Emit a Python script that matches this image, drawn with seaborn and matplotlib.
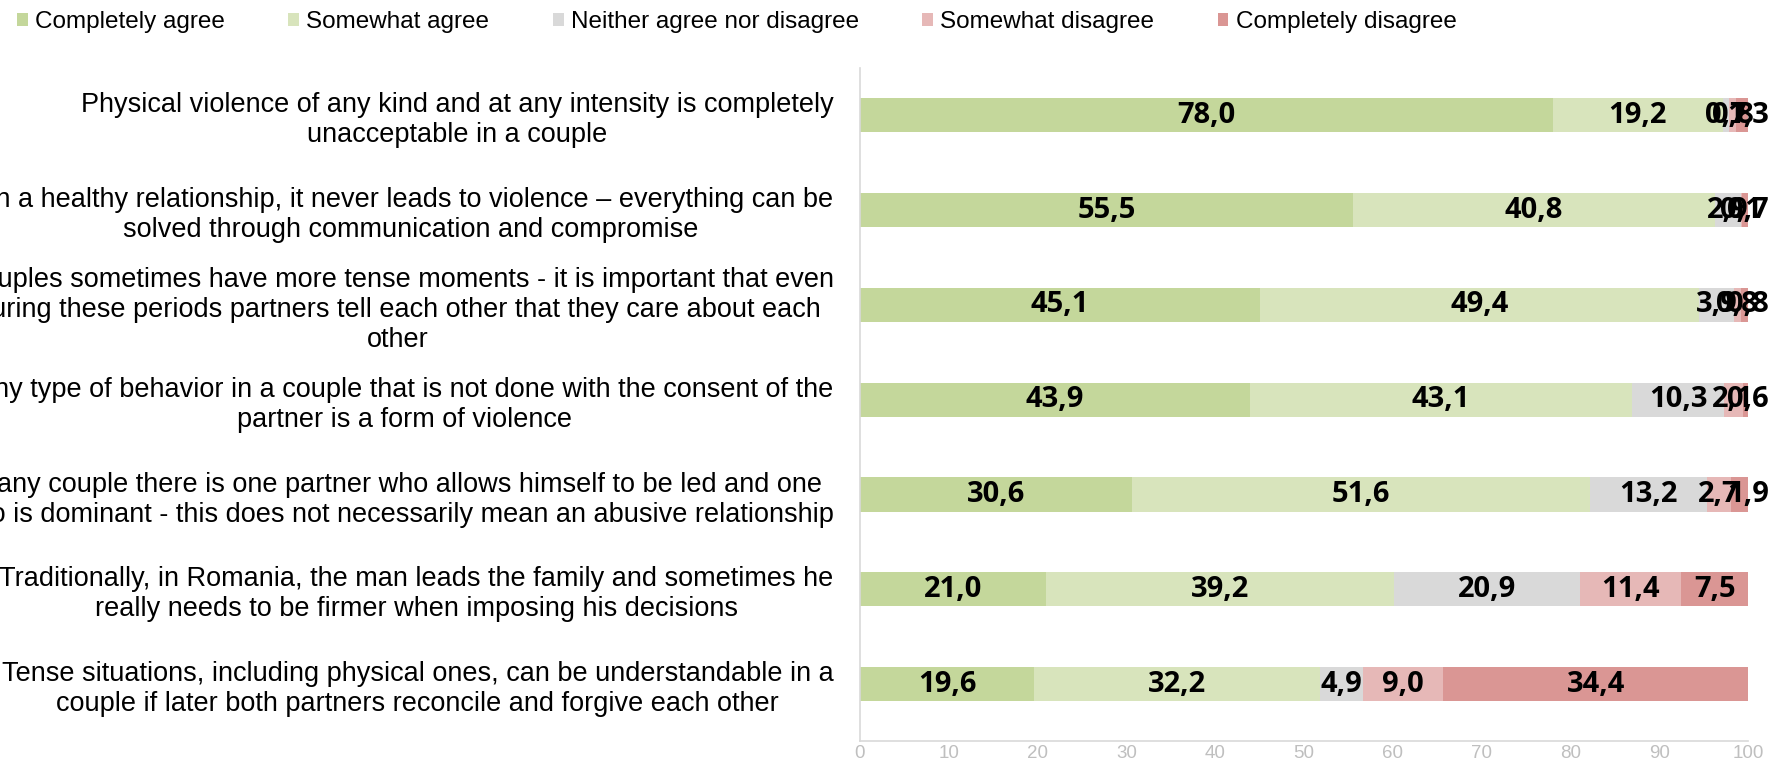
import numpy as np
import matplotlib
matplotlib.use("Agg")
import matplotlib.pyplot as plt
import seaborn as sns
from matplotlib.patches import Patch

# Survey statements (as wrapped in the source chart)
statements = [
    "Physical violence of any kind and at any intensity is completely\nunacceptable in a couple",
    "In a healthy relationship, it never leads to violence \u2013 everything can be\nsolved through communication and compromise",
    "Couples sometimes have more tense moments - it is important that even\nduring these periods partners tell each other that they care about each\nother",
    "Any type of behavior in a couple that is not done with the consent of the\npartner is a form of violence",
    "In any couple there is one partner who allows himself to be led and one\nwho is dominant - this does not necessarily mean an abusive relationship",
    "Traditionally, in Romania, the man leads the family and sometimes he\nreally needs to be firmer when imposing his decisions",
    "Tense situations, including physical ones, can be understandable in a\ncouple if later both partners reconcile and forgive each other",
]

answers = ["Completely agree", "Somewhat agree", "Neither agree nor disagree",
           "Somewhat disagree", "Completely disagree"]

completely_agree = [78.0, 55.5, 45.1, 43.9, 30.6, 21.0, 19.6]
somewhat_agree = [19.2, 40.8, 49.4, 43.1, 51.6, 39.2, 32.2]
neither = [0.7, 2.9, 3.9, 10.3, 13.2, 20.9, 4.9]
somewhat_disagree = [0.8, 0.1, 0.8, 2.1, 2.7, 11.4, 9.0]
completely_disagree = [1.3, 0.7, 0.8, 0.6, 1.9, 7.5, 34.4]

colors = ["#C4D79B", "#D8E4BC", "#D9D9D9", "#E6B8B7", "#DA9694"]

vals = np.array([completely_agree, somewhat_agree, neither,
                 somewhat_disagree, completely_disagree]).T
cum = vals.cumsum(axis=1)

fig = plt.figure(figsize=(17.83, 7.6), dpi=100)
ax = fig.add_axes([0.4823, 0.025, 0.498, 0.8855])

# stacked bars: draw the longest cumulative total first
for i in range(len(answers) - 1, -1, -1):
    sns.barplot(x=cum[:, i], y=statements, color=colors[i], orient="h",
                width=0.36, saturation=1, errorbar=None, ax=ax)

for r in range(len(statements)):
    for i in range(len(answers)):
        v = vals[r, i]
        xpos = cum[r, i] - v / 2
        # tiny last segment: label sits on the bar end, like the source
        if i == len(answers) - 1 and v < 2.5:
            xpos = cum[r, i]
        ax.text(xpos, r, f"{v:.1f}".replace(".", ","),
                ha="center", va="center", fontsize=21, fontweight="bold",
                family="Open Sans", color="black")

ax.set_xlim(0, 100)
ax.set_ylim(6.6, -0.5)
ax.set_xticks(range(0, 101, 10))
ax.set_xlabel("")
ax.set_ylabel("")
ax.set_yticks(range(len(statements)))
ax.set_yticklabels(statements, multialignment="center",
                   fontsize=19.5, family="Liberation Sans")
ax.tick_params(axis="y", length=0, pad=19)
ax.tick_params(axis="x", length=0, pad=3, labelsize=13.5, labelcolor="#BFBFBF")
for lbl in ax.get_xticklabels():
    lbl.set_family("Liberation Sans")

for s in ["top", "right"]:
    ax.spines[s].set_visible(False)
for s in ["left", "bottom"]:
    ax.spines[s].set_color("#D9D9D9")
    ax.spines[s].set_linewidth(1.2)

handles = [Patch(facecolor=c, edgecolor="none") for c in colors]
fig.legend(handles, answers, loc="upper left", bbox_to_anchor=(0.004, 0.998),
           ncol=5, frameon=False, prop={"family": "Liberation Sans", "size": 17.5},
           handlelength=0.45, handleheight=0.45, handletextpad=0.3,
           columnspacing=2.6, borderaxespad=0)

fig.savefig("out.png", dpi=100)
